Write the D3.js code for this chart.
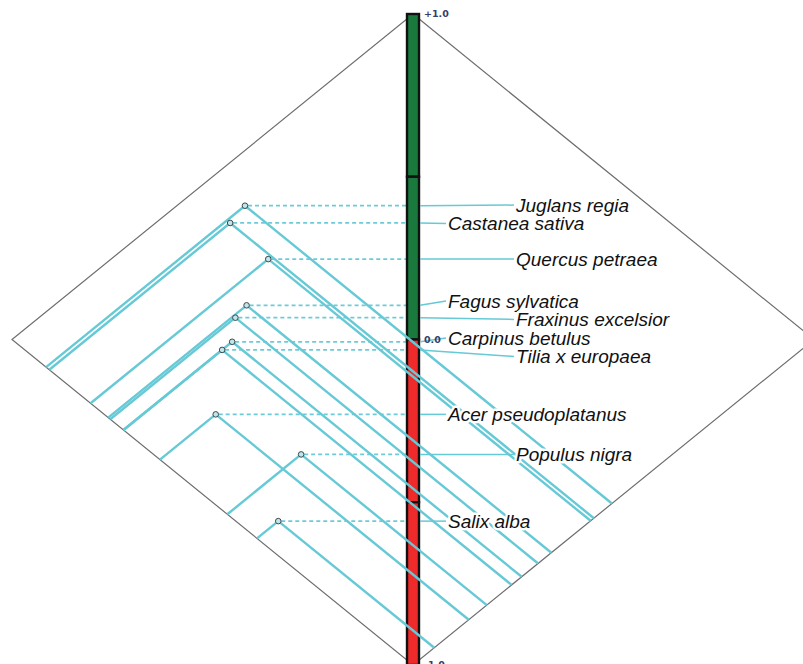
<!DOCTYPE html>
<html>
<head>
<meta charset="utf-8">
<script src="https://cdn.jsdelivr.net/npm/d3@7/dist/d3.min.js"></script>
<style>
  html, body { margin: 0; padding: 0; background: #ffffff; }
  svg { display: block; }
</style>
</head>
<body>
<script>
// Species and their two scores, read along the lower-left and lower-right edges (0..1)
const species = [
  "Juglans regia", "Castanea sativa", "Quercus petraea", "Fagus sylvatica",
  "Fraxinus excelsior", "Carpinus betulus", "Tilia x europaea",
  "Acer pseudoplatanus", "Populus nigra", "Salix alba"
];
const leftScore  = [0.915, 0.907, 0.804, 0.760, 0.755, 0.722, 0.722, 0.631, 0.463, 0.389];
const rightScore = [0.496, 0.451, 0.443, 0.345, 0.312, 0.271, 0.246, 0.139, 0.184, 0.053];
// Which label column each name sits in
const labelColumn = ["far", "near", "far", "near", "far", "near", "far", "near", "far", "near"];

// Central scale bar: band limits, colours, tick values and texts
const bandLimits = [1, 0.5, 0, -0.5, -1];
const bandColors = ["#1a7a3e", "#1a7a3e", "#ee2a2a", "#ee2a2a"];
const tickValues = [1, 0, -1];
const tickLabels = ["+1.0", "0.0", "-1.0"];

const W = 803, H = 664;
const svg = d3.select("body").append("svg").attr("width", W).attr("height", H);

// value = left + right - 1 (vertical), offset = right - left (horizontal)
const y = d3.scaleLinear().domain([-1, 1]).range([665, 14]);
const x = d3.scaleLinear().domain([-1, 1]).range([12, 814]);

const lineColor = "#66c9d6";
const line = d3.line().x(d => x(d[0])).y(d => y(d[1]));

const data = species.map((name, i) => {
  const u = leftScore[i], v = rightScore[i];
  return {
    name, u, v,
    col: labelColumn[i],
    px: x(v - u), py: y(u + v - 1)
  };
});

// Diamond frame
svg.append("path")
  .attr("d", line([[0, 1], [1, 0], [0, -1], [-1, 0]]) + "Z")
  .attr("fill", "none").attr("stroke", "#6e6e6e").attr("stroke-width", 1.2);

const barX0 = 407, barX1 = 419;

// Dashed leaders from each point to the bar
svg.append("g").selectAll("line").data(data).join("line")
  .attr("x1", d => d.px + 3).attr("x2", barX0)
  .attr("y1", d => d.py).attr("y2", d => d.py)
  .attr("stroke", "#6fcad8").attr("stroke-width", 1.7)
  .attr("stroke-dasharray", "4,3");

// Scale bar
const bar = svg.append("g");
bandColors.forEach((c, i) => {
  bar.append("rect")
    .attr("x", barX0).attr("width", barX1 - barX0)
    .attr("y", y(bandLimits[i])).attr("height", y(bandLimits[i + 1]) - y(bandLimits[i]))
    .attr("fill", c).attr("stroke", "#111").attr("stroke-width", 2.4);
});

// Projections of each point onto the two lower edges
const proj = svg.append("g");
data.forEach(d => {
  proj.append("path")
    .attr("d", line([[d.v - d.u, d.u + d.v - 1], [-d.u, d.u - 1]]))
    .attr("fill", "none").attr("stroke", lineColor).attr("stroke-width", 2.4);
  proj.append("path")
    .attr("d", line([[d.v - d.u, d.u + d.v - 1], [d.v, d.v - 1]]))
    .attr("fill", "none").attr("stroke", lineColor).attr("stroke-width", 2.4);
});

// Point markers
svg.append("g").selectAll("circle").data(data).join("circle")
  .attr("cx", d => d.px).attr("cy", d => d.py).attr("r", 2.8)
  .attr("fill", "#bfe6ea").attr("stroke", "#3d4a4c").attr("stroke-width", 1);

// Label placement: start at point height, spread apart where crowded
const sorted = data.slice().sort((a, b) => a.py - b.py);
sorted.forEach(d => d.ly = d.py);
const minGap = 18.5;
for (let it = 0; it < 60; it++) {
  for (let i = 1; i < sorted.length; i++) {
    const a = sorted[i - 1], b = sorted[i];
    const gap = b.ly - a.ly;
    if (gap < minGap) {
      const push = (minGap - gap) / 2;
      a.ly -= push; b.ly += push;
    }
  }
}
const colX = { near: 448, far: 516 };

// Solid connectors from bar to label
svg.append("g").selectAll("line").data(data).join("line")
  .attr("x1", barX1 + 1).attr("y1", d => d.py)
  .attr("x2", d => colX[d.col] - 2).attr("y2", d => d.ly)
  .attr("stroke", lineColor).attr("stroke-width", 1.5);

// Species names with a white halo
svg.append("g").selectAll("text").data(data).join("text")
  .attr("x", d => colX[d.col]).attr("y", d => d.ly)
  .attr("dy", "0.35em")
  .attr("font-family", "'Liberation Sans', Arial, sans-serif")
  .attr("font-style", "italic").attr("font-size", 19)
  .attr("fill", "#111")
  .attr("stroke", "#fff").attr("stroke-width", 5).attr("stroke-linejoin", "round")
  .attr("paint-order", "stroke")
  .text(d => d.name);

// Bar tick labels
svg.append("g").selectAll("text").data(tickValues).join("text")
  .attr("x", 424).attr("y", d => y(d) + 3.4)
  .attr("font-family", "'DejaVu Sans', Verdana, sans-serif")
  .attr("font-weight", "bold").attr("font-size", 9.5)
  .attr("fill", "#34406a")
  .text((d, i) => tickLabels[i]);
</script>
</body>
</html>
